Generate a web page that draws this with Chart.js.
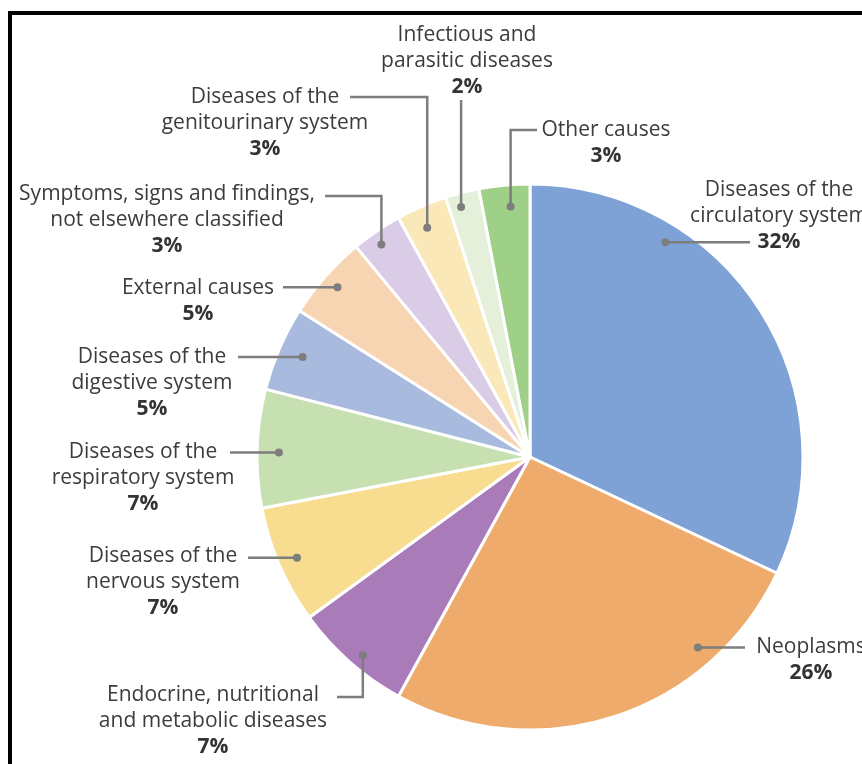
<!DOCTYPE html>
<html>
<head>
<meta charset="utf-8">
<script src="https://cdn.jsdelivr.net/npm/chart.js@4/dist/chart.umd.min.js"></script>
<style>
  html, body { margin: 0; padding: 0; background: #fff; overflow: hidden; }
  #wrap { position: relative; width: 862px; height: 764px; }
  #frame { position: absolute; left: 8px; top: 11px; right: -10px; bottom: -10px;
           border-top: 4px solid #000; border-left: 4px solid #000; pointer-events: none; }
  canvas { position: absolute; left: 0; top: 0; }
</style>
</head>
<body>
<div id="wrap">
  <canvas id="pieChart" width="862" height="764"></canvas>
  <div id="frame"></div>
</div>
<script>
// causes of death, clockwise from 12 o'clock
var causes = [
  ["Diseases of the", "circulatory system"],
  ["Neoplasms"],
  ["Endocrine, nutritional", "and metabolic diseases"],
  ["Diseases of the", "nervous system"],
  ["Diseases of the", "respiratory system"],
  ["Diseases of the", "digestive system"],
  ["External causes"],
  ["Symptoms, signs and findings,", "not elsewhere classified"],
  ["Diseases of the", "genitourinary system"],
  ["Infectious and", "parasitic diseases"],
  ["Other causes"]
];
var shares = [32, 26, 7, 7, 7, 5, 5, 3, 3, 2, 3];
var sliceColors = ["#7fa2d6", "#efab6b", "#a97bb8", "#f8dc8f", "#c6e0b2", "#a8badd",
                   "#f8d5b2", "#dacce7", "#fbe8b9", "#e4f0da", "#9ed088"];

// where each label sits: text centre, first line y, leader end, route
// t = position along the slice (0..1), r = fraction of the radius for the dot
var labelSpots = [
  {t: 0.28, r: 0.93, x: 779, y: 190, route: "h", endX: 750},
  {t: 0.25, r: 0.93, x: 811, y: 647, route: "h", endX: 745},
  {t: 0.45, r: 0.95, x: 213, y: 695, route: "v", endX: 337, endY: 697},
  {t: 0.50, r: 0.93, x: 163, y: 556, route: "h", endX: 248},
  {t: 0.47, r: 0.92, x: 143, y: 452, route: "h", endX: 230},
  {t: 0.52, r: 0.91, x: 152, y: 357, route: "h", endX: 238},
  {t: 0.50, r: 0.94, x: 198, y: 288, route: "h", endX: 283},
  {t: 0.43, r: 0.95, x: 167, y: 194, route: "v", endX: 325, endY: 196},
  {t: 0.43, r: 0.92, x: 265, y: 97, route: "v", endX: 350, endY: 97},
  {t: 0.36, r: 0.95, x: 467, y: 35, route: "v", endX: null, endY: 100},
  {t: 0.59, r: 0.92, x: 606, y: 130, route: "v", endX: 537, endY: 130}
];

var lineGap = 26;

var calloutPlugin = {
  id: 'callouts',
  afterDatasetsDraw: function(chart){
    var ctx = chart.ctx;
    var arcs = chart.getDatasetMeta(0).data;
    ctx.save();
    arcs.forEach(function(arc, i){
      var spot = labelSpots[i];
      var a = arc.startAngle + (arc.endAngle - arc.startAngle) * spot.t;
      var px = arc.x + Math.cos(a) * arc.outerRadius * spot.r;
      var py = arc.y + Math.sin(a) * arc.outerRadius * spot.r;

      // leader line
      ctx.strokeStyle = '#7d7d7d';
      ctx.lineWidth = 2.5;
      ctx.lineJoin = 'miter';
      ctx.beginPath();
      ctx.moveTo(px, py);
      if (spot.route === 'h') {
        ctx.lineTo(spot.endX, py);
      } else {
        ctx.lineTo(px, spot.endY);
        if (spot.endX !== null) ctx.lineTo(spot.endX, spot.endY);
      }
      ctx.stroke();

      ctx.fillStyle = '#7d7d7d';
      ctx.beginPath();
      ctx.arc(px, py, 4, 0, Math.PI * 2);
      ctx.fill();

      // label text
      ctx.textAlign = 'center';
      ctx.textBaseline = 'middle';
      ctx.fillStyle = '#3c3c3c';
      ctx.font = '21px "Open Sans"';
      var lines = causes[i];
      lines.forEach(function(line, k){
        ctx.fillText(line, spot.x, spot.y + k * lineGap);
      });
      ctx.font = 'bold 21px "Open Sans"';
      ctx.fillStyle = '#333';
      ctx.fillText(shares[i] + '%', spot.x, spot.y + lines.length * lineGap);
    });
    ctx.restore();
  }
};

function renderPie(){
  var ctxP = document.getElementById("pieChart").getContext('2d');
  var myPieChart = new Chart(ctxP, {
    type: 'pie',
    data: {
      labels: causes,
      datasets: [
        {
          data: shares,
          backgroundColor: sliceColors,
          borderColor: '#ffffff',
          borderWidth: 3,
          hoverOffset: 0,
          radius: 273
        }
      ]
    },
    options: {
      responsive: false,
      animation: false,
      events: [],
      layout: { padding: { left: 258, right: 60, top: 185, bottom: 35 } },
      plugins: {
        legend: { display: false },
        tooltip: { enabled: false }
      }
    },
    plugins: [calloutPlugin]
  });
}

renderPie();
</script>
</body>
</html>
